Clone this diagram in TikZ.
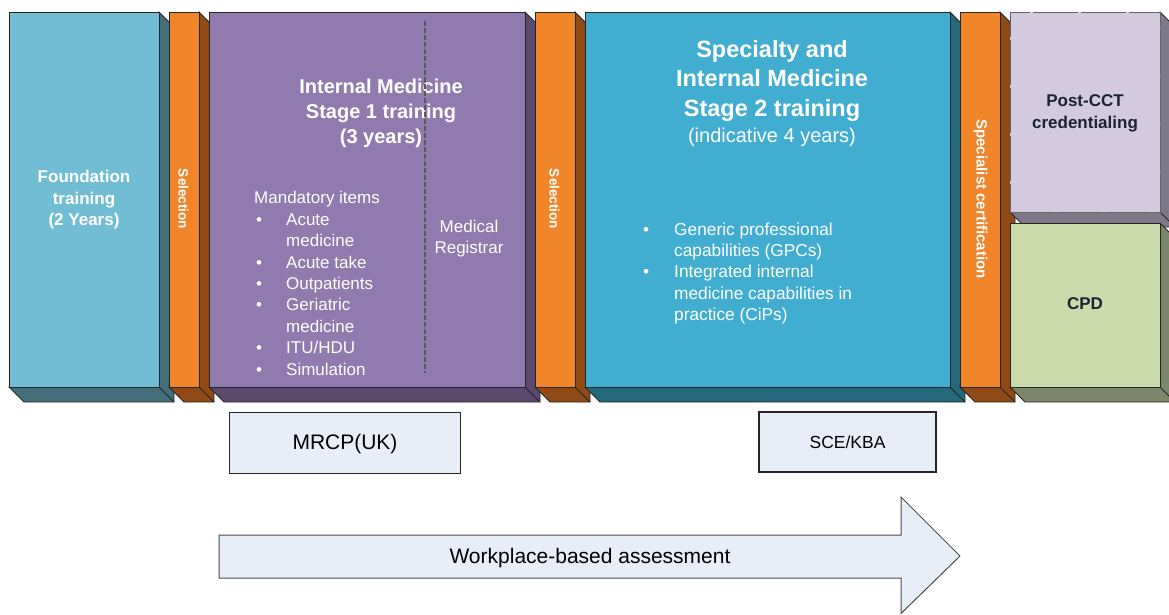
\documentclass[tikz,border=0pt]{standalone}
\usepackage{fontspec}
\setmainfont{Liberation Sans}
\usetikzlibrary{calc}
\pgfdeclarelayer{back}
\pgfsetlayers{back,main}
\definecolor{fndF}{HTML}{71BDD3}\definecolor{fndS}{HTML}{446F7A}
\definecolor{orgF}{HTML}{F08529}\definecolor{orgS}{HTML}{8F4A15}
\definecolor{purF}{HTML}{917AAD}\definecolor{purS}{HTML}{5B4A6D}
\definecolor{tealF}{HTML}{41ADD0}\definecolor{tealS}{HTML}{246879}
\definecolor{pstF}{HTML}{D4CADF}\definecolor{pstS}{HTML}{7F7889}
\definecolor{cpdF}{HTML}{CBDAAB}\definecolor{cpdS}{HTML}{7B866B}
\definecolor{boxF}{HTML}{E7EEF8}
\definecolor{dkText}{HTML}{1C2233}
\newcommand\bul[1]{\makebox[#1][l]{\hspace{2pt}\textbullet}}
\newcommand\ind[1]{\makebox[#1]{}}
\newcommand\blockdepth[2]{%
  \begin{pgfonlayer}{back}
  \draw[depthline, fill=#2] (#1.north east) -- ($(#1.north east)+(15,15)$) -- ($(#1.south east)+(15,15)$) -- ($(#1.south west)+(15,15)$) -- (#1.south west) -- cycle;
  \draw[depthline] (#1.south east) -- ($(#1.south east)+(15,15)$);
  \end{pgfonlayer}}
\tikzset{
  face/.style={draw=black!85, line width=0.9pt, outer sep=0pt, inner sep=0pt},
  depthline/.style={draw=black!85, line width=0.9pt},
  wt/.style={text=white, inner sep=0pt},
  dk/.style={text=dkText, inner sep=0pt},
  exambox/.style={draw=black!85, line width=1.2pt, fill=boxF, inner sep=0pt, outer sep=0pt},
}
\begin{document}
\begin{tikzpicture}[x=1pt, y=-1pt]
\useasboundingbox (0,0) rectangle (1169,614);
\clip (0,0) rectangle (1169,614);
% blocks
\node[face, fill=fndF, minimum width=150pt, minimum height=375pt] (found) at (84,199.5) {};
\blockdepth{found}{fndS}
\node[face, fill=orgF, minimum width=30pt, minimum height=375pt] (sel1) at (184,199.5) {};
\blockdepth{sel1}{orgS}
\node[face, fill=purF, minimum width=316pt, minimum height=375pt] (im1) at (367,199.5) {};
\blockdepth{im1}{purS}
\node[face, fill=orgF, minimum width=40pt, minimum height=375pt] (sel2) at (555,199.5) {};
\blockdepth{sel2}{orgS}
\node[face, fill=tealF, minimum width=365pt, minimum height=375pt] (im2) at (767.5,199.5) {};
\blockdepth{im2}{tealS}
\node[face, fill=orgF, minimum width=40pt, minimum height=375pt] (spec) at (980,199.5) {};
\blockdepth{spec}{orgS}
\node[face, draw=black!60, dash pattern=on 45pt off 3pt, fill=pstF, minimum width=150pt, minimum height=200pt] (post) at (1085,112) {};
\blockdepth{post}{pstS}
\node[face, fill=cpdF, minimum width=150pt, minimum height=164pt] (cpd) at (1085,305) {};
\blockdepth{cpd}{cpdS}
% texts
\node[wt, align=center, font=\bfseries\fontsize{17}{21.5}\selectfont] (foundt) at (84,200) {Foundation\\training\\(2 Years)};
\node[wt, rotate=-90, font=\bfseries\fontsize{13.5}{14}\selectfont] (sel1t) at (183.5,199) {Selection};
\node[wt, rotate=-90, font=\bfseries\fontsize{13.5}{14}\selectfont] (sel2t) at (554.5,199) {Selection};
\node[wt, rotate=-90, font=\bfseries\fontsize{15}{16}\selectfont] (spect) at (980.5,199) {Specialist certification};
\node[wt, align=center, font=\bfseries\fontsize{20}{25}\selectfont] (im1t) at (381,113) {Internal Medicine\\Stage 1 training\\(3 years)};
\coordinate (dtop) at (425,21);
\coordinate (dbot) at (425,373);
\draw[black!65, line width=1.1pt, dash pattern=on 5pt off 2pt] (dtop) -- (dbot);
\node[wt, align=left, anchor=west, font=\fontsize{17}{21.4}\selectfont] (mand) at (254,283.5) {Mandatory items\\
\bul{32pt}Acute\\
\ind{32pt}medicine\\
\bul{32pt}Acute take\\
\bul{32pt}Outpatients\\
\bul{32pt}Geriatric\\
\ind{32pt}medicine\\
\bul{32pt}ITU/HDU\\
\bul{32pt}Simulation};
\node[wt, align=center, font=\fontsize{17}{21}\selectfont] (reg) at (469,238.5) {Medical\\Registrar};
\node[wt, align=center, font=\bfseries\fontsize{23.5}{29.5}\selectfont] (im2t) at (772,80.5) {Specialty and\\Internal Medicine\\Stage 2 training};
\node[wt, font=\fontsize{20}{24}\selectfont] (im2y) at (772,137.5) {(indicative 4 years)};
\node[wt, align=left, anchor=west, font=\fontsize{17.3}{21.25}\selectfont] (caps) at (641,273.5) {\bul{33pt}Generic professional\\
\ind{33pt}capabilities (GPCs)\\
\bul{33pt}Integrated internal\\
\ind{33pt}medicine capabilities in\\
\ind{33pt}practice (CiPs)};
\node[dk, align=center, font=\bfseries\fontsize{17}{22}\selectfont] (postt) at (1085,113) {Post-CCT\\credentialing};
\node[dk, font=\bfseries\fontsize{17}{21}\selectfont] (cpdt) at (1085,304) {CPD};
% exam boxes
\node[exambox, minimum width=231pt, minimum height=61pt] (mrcp) at (345,443) {};
\node[font=\fontsize{21}{24}\selectfont, inner sep=0pt] (mrcpt) at (345,444.5) {MRCP(UK)};
\node[exambox, minimum width=177pt, minimum height=60pt, font=\fontsize{17.5}{20}\selectfont] (sce) at (847.5,442) {SCE/KBA};
% arrow
\draw[draw=black!70, line width=1pt, fill=boxF] (219,535) -- (901,535) -- (901,497) -- (960,556) -- (901,613.5) -- (901,578) -- (219,578) -- cycle;
\node[font=\fontsize{21}{24}\selectfont, inner sep=0pt] (wba) at (590,558) {Workplace-based assessment};
\end{tikzpicture}
\end{document}
